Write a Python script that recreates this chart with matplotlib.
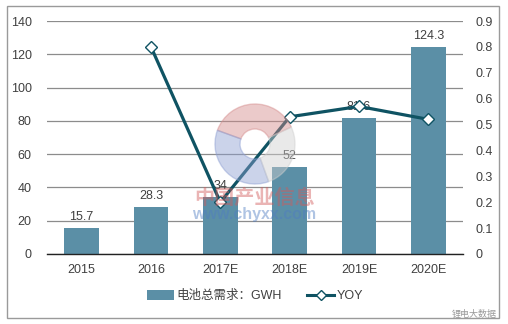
import matplotlib
matplotlib.use("Agg")
import matplotlib.pyplot as plt
from matplotlib.patches import Rectangle, Wedge
from matplotlib.lines import Line2D
from matplotlib.patches import Patch

plt.rcParams['font.family'] = ['Liberation Sans', 'Noto Sans CJK SC', 'DejaVu Sans']

years = ["2015", "2016", "2017E", "2018E", "2019E", "2020E"]
demand = [15.7, 28.3, 34, 52, 81.6, 124.3]
yoy = [None, 0.80, 0.20, 0.53, 0.57, 0.52]
bar_label = "电池总需求：GWH"
line_label = "YOY"

bar_color = "#5B8FA6"
line_color = "#0F5363"
text_color = "#404040"
grid_color = "#8C8C8C"

fig = plt.figure(figsize=(5.08, 3.24), dpi=100)
fig.patch.set_facecolor("white")

# outer frame
fig.patches.append(Rectangle((7 / 508, 1 - 318 / 324), 492 / 508, 312 / 324,
                             transform=fig.transFigure, fill=False,
                             edgecolor="#9A9A9A", linewidth=1.0))

ax = fig.add_axes([47 / 508, 1 - 254 / 324, 416 / 508, 233 / 324])
x = list(range(len(years)))
ax.bar(x, demand, width=0.5, color=bar_color, zorder=2)
ax.set_xlim(-0.5, len(years) - 0.5)
ax.set_ylim(0, 140)
ax.set_yticks(range(0, 141, 20))
ax.set_xticks(x)
ax.set_xticklabels(years)
ax.yaxis.grid(True, color=grid_color, linewidth=0.9, zorder=0)
ax.set_axisbelow(True)
for s in ["left", "right", "top"]:
    ax.spines[s].set_visible(False)
ax.spines["bottom"].set_color("#222222")
ax.spines["bottom"].set_linewidth(1.0)
ax.spines["bottom"].set_zorder(3)
ax.tick_params(axis="both", length=0, labelsize=9, colors=text_color)
ax.tick_params(axis="x", pad=7)
ax.tick_params(axis="y", pad=11)

for xi, v in zip(x, demand):
    ax.text(xi, v + 3, f"{v:g}", ha="center", va="bottom",
            fontsize=9, color=text_color, zorder=4)

ax2 = ax.twinx()
ax2.set_ylim(0, 0.9)
ax2.set_yticks([i / 10 for i in range(10)])
ax2.set_yticklabels(["0"] + [f"{i / 10:.1f}" for i in range(1, 10)])
for s in ["left", "right", "top", "bottom"]:
    ax2.spines[s].set_visible(False)
ax2.tick_params(axis="y", length=0, labelsize=9, colors=text_color, pad=9)
lx = [xi for xi, v in zip(x, yoy) if v is not None]
ly = [v for v in yoy if v is not None]
ax2.plot(lx, ly, color=line_color, linewidth=2.3, marker="D", markersize=6,
         markerfacecolor="white", markeredgecolor=line_color,
         markeredgewidth=1.0, zorder=5)

# faint watermark (pixel coordinates, y downwards)
wax = fig.add_axes([0, 0, 1, 1], facecolor="none")
wax.set_xlim(0, 508)
wax.set_ylim(324, 0)
wax.axis("off")
cx, cy, r, w = 255, 144, 40, 25
for a1, a2, col in [(-160, -25, "#D48A8A"), (-290, -160, "#8C9ED2"),
                    (-25, 70, "#CFCFCF")]:
    wax.add_patch(Wedge((cx, cy), r, a1, a2, width=w, color=col, alpha=0.45,
                        zorder=6))
wax.text(255, 198, "中国产业信息", fontsize=14.5, color="#D25A5A", alpha=0.45,
         ha="center", va="center", fontweight="bold", zorder=7)
wax.text(254, 214, "www.chyxx.com", fontsize=11.5, color="#4F7CC2", alpha=0.45,
         ha="center", va="center", fontweight="bold", zorder=7)

wax.text(497, 314, "锂电大数据", fontsize=6.5, color="#9A9A9A", ha="right",
         va="center")

handles = [Patch(facecolor=bar_color, edgecolor="none"),
           Line2D([0], [0], color=line_color, linewidth=2.2, marker="D",
                  markersize=5, markerfacecolor="white",
                  markeredgecolor=line_color)]
fig.legend(handles, [bar_label, line_label], loc="center",
           bbox_to_anchor=(255 / 508, 1 - 296 / 324), ncol=2, frameon=False,
           fontsize=9, labelcolor=text_color, handlelength=2.2,
           handleheight=0.9, columnspacing=2.0, handletextpad=0.2)

fig.savefig("out.png", dpi=100, facecolor="white")
